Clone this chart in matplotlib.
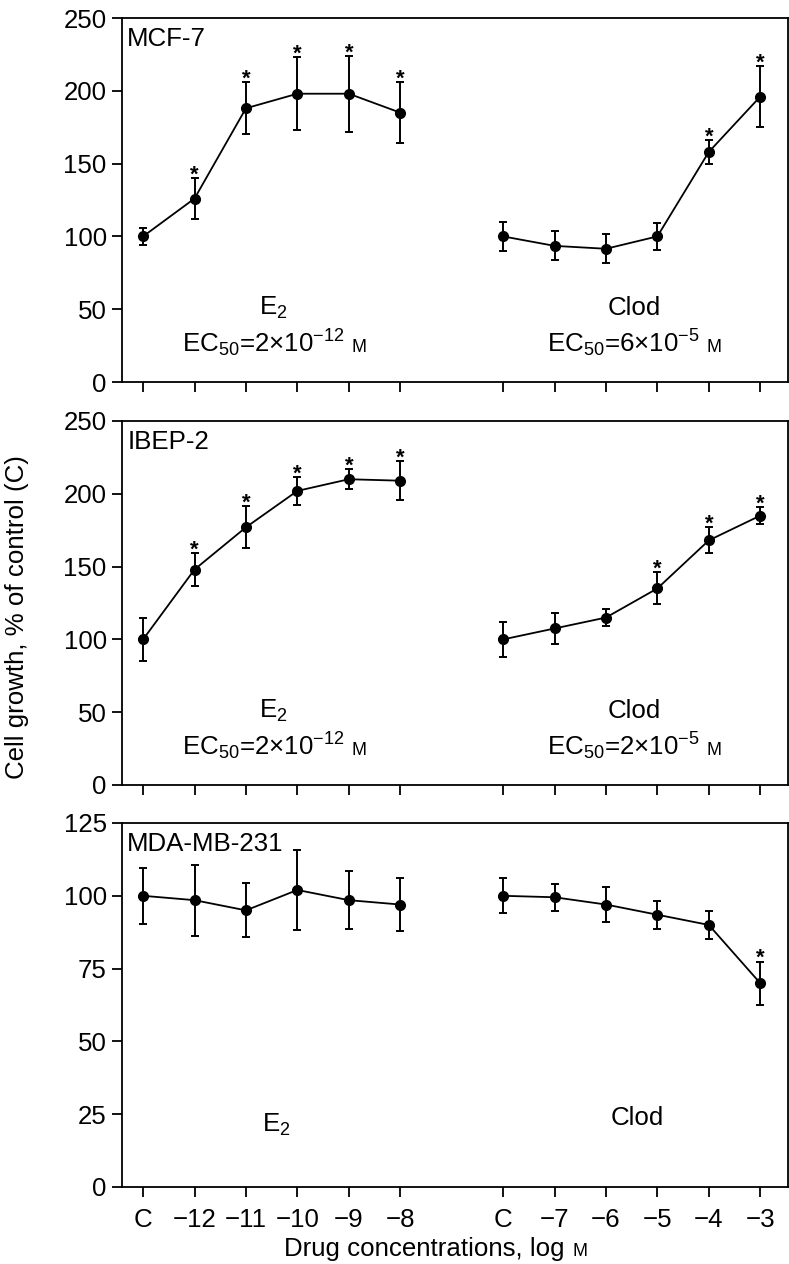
import numpy as np
import matplotlib
matplotlib.use('Agg')
import matplotlib.pyplot as plt
from matplotlib.offsetbox import TextArea, HPacker, AnnotationBbox

plt.rcParams['font.family'] = ['Liberation Sans', 'DejaVu Sans']
plt.rcParams['mathtext.fontset'] = 'custom'
plt.rcParams['mathtext.rm'] = 'Liberation Sans'
plt.rcParams['mathtext.it'] = 'Liberation Sans:italic'
plt.rcParams['mathtext.bf'] = 'Liberation Sans:bold'

# x positions: E2 block and Clod block
e2_pos = [0, 1, 2, 3, 4, 5]
clod_pos = [7, 8, 9, 10, 11, 12]
e2_labels = ['C', '\u221212', '\u221211', '\u221210', '\u22129', '\u22128']
clod_labels = ['C', '\u22127', '\u22126', '\u22125', '\u22124', '\u22123']

# MCF-7
mcf7_e2 = [100, 126, 188, 198, 198, 185]
mcf7_e2_err = [6, 14, 18, 25, 26, 21]
mcf7_e2_star = [0, 1, 1, 1, 1, 1]
mcf7_clod = [100, 93.5, 91.5, 100, 158, 196]
mcf7_clod_err = [10, 10, 10, 9.5, 8, 21]
mcf7_clod_star = [0, 0, 0, 0, 1, 1]

# IBEP-2
ibep_e2 = [100, 148, 177, 202, 210, 209]
ibep_e2_err = [15, 11, 14.5, 9.5, 7, 13.5]
ibep_e2_star = [0, 1, 1, 1, 1, 1]
ibep_clod = [100, 107.5, 115, 135, 168, 185]
ibep_clod_err = [12, 10.5, 6, 11, 9, 6]
ibep_clod_star = [0, 0, 0, 1, 1, 1]

# MDA-MB-231
mda_e2 = [100, 98.5, 95, 102, 98.5, 97]
mda_e2_err = [9.7, 12.2, 9.3, 13.8, 10, 9]
mda_e2_star = [0, 0, 0, 0, 0, 0]
mda_clod = [100, 99.5, 97, 93.5, 90, 70]
mda_clod_err = [6, 4.6, 5.9, 4.8, 4.9, 7.4]
mda_clod_star = [0, 0, 0, 0, 0, 1]

panels = [
    ('MCF-7', 250, 50, mcf7_e2, mcf7_e2_err, mcf7_e2_star,
     mcf7_clod, mcf7_clod_err, mcf7_clod_star, '\u221212', '6', '\u22125'),
    ('IBEP-2', 250, 50, ibep_e2, ibep_e2_err, ibep_e2_star,
     ibep_clod, ibep_clod_err, ibep_clod_star, '\u221212', '2', '\u22125'),
    ('MDA-MB-231', 125, 25, mda_e2, mda_e2_err, mda_e2_star,
     mda_clod, mda_clod_err, mda_clod_star, None, None, None),
]

fs = 18.6
fs_m = 13
W, H = 789, 1264
fig = plt.figure(figsize=(W / 100, H / 100), dpi=100)

tops = [18, 421, 823]
ax_h = 364
left_px, right_px = 122, 788

def ec50_box(mant, exp):
    main = TextArea('EC$_{50}$=' + mant + '\u00d710$^{' + exp + '}$',
                    textprops=dict(fontsize=fs))
    m = TextArea('M', textprops=dict(fontsize=fs_m))
    return HPacker(children=[main, m], align='baseline', pad=0, sep=5)

for i, p in enumerate(panels):
    (name, ymax, ystep, e2, e2err, e2star, cl, clerr, clstar,
     e2exp, clmant, clexp) = p
    top = tops[i]
    ax = fig.add_axes([left_px / W, 1 - (top + ax_h) / H,
                       (right_px - left_px) / W, ax_h / H])
    for xs, ys, es, st in [(e2_pos, e2, e2err, e2star),
                           (clod_pos, cl, clerr, clstar)]:
        ax.errorbar(xs, ys, yerr=es, fmt='o-', color='black', lw=1.3,
                    markersize=7, elinewidth=1.4, capsize=2.6,
                    capthick=1.4)
        for x, y, e, s in zip(xs, ys, es, st):
            if s:
                ax.annotate('*', xy=(x, y + e), xytext=(0, -1.8),
                            textcoords='offset points', ha='center',
                            va='baseline', fontsize=16, fontweight='bold')
    ax.set_xlim(-0.41, 12.54)
    ax.set_ylim(0, ymax)
    ax.set_yticks(np.arange(0, ymax + 1, ystep))
    ax.set_xticks(e2_pos + clod_pos)
    if i == 2:
        ax.set_xticklabels(e2_labels + clod_labels)
    else:
        ax.set_xticklabels([])
    ax.tick_params(axis='both', direction='out', length=7, width=1.3,
                   labelsize=fs)
    ax.tick_params(axis='x', pad=8)
    ax.tick_params(axis='y', pad=4)
    for sp in ax.spines.values():
        sp.set_linewidth(1.3)
    ax.text(0.008, 0.975, name, transform=ax.transAxes, ha='left',
            va='top', fontsize=fs)

    if e2exp is not None:
        ax.text(2.53, 0.203 * ymax, 'E$_2$', ha='center', va='center',
                fontsize=fs)
        ax.text(9.55, 0.203 * ymax, 'Clod', ha='center', va='center',
                fontsize=fs)
        ab = AnnotationBbox(ec50_box('2', e2exp), (2.55, 0.107 * ymax),
                            frameon=False, box_alignment=(0.5, 0.5), pad=0)
        ax.add_artist(ab)
        ab = AnnotationBbox(ec50_box(clmant, clexp), (9.55, 0.107 * ymax),
                            frameon=False, box_alignment=(0.5, 0.5), pad=0)
        ax.add_artist(ab)
    else:
        ax.text(2.6, 0.17 * ymax, 'E$_2$', ha='center', va='center',
                fontsize=fs)
        ax.text(9.6, 0.19 * ymax, 'Clod', ha='center', va='center',
                fontsize=fs)

# shared y label
fig.text(17 / W, 1 - 617 / H, 'Cell growth, % of control (C)',
         rotation=90, ha='center', va='center', fontsize=fs)

# x label with small-caps M
xl = HPacker(children=[TextArea('Drug concentrations, log',
                                textprops=dict(fontsize=fs)),
                       TextArea('M', textprops=dict(fontsize=fs_m))],
             align='baseline', pad=0, sep=6)
ab = AnnotationBbox(xl, (436 / W, 1 - 1249 / H), xycoords='figure fraction',
                    frameon=False, box_alignment=(0.5, 0.5), pad=0)
fig.add_artist(ab)

plt.savefig('out.png', dpi=100)
